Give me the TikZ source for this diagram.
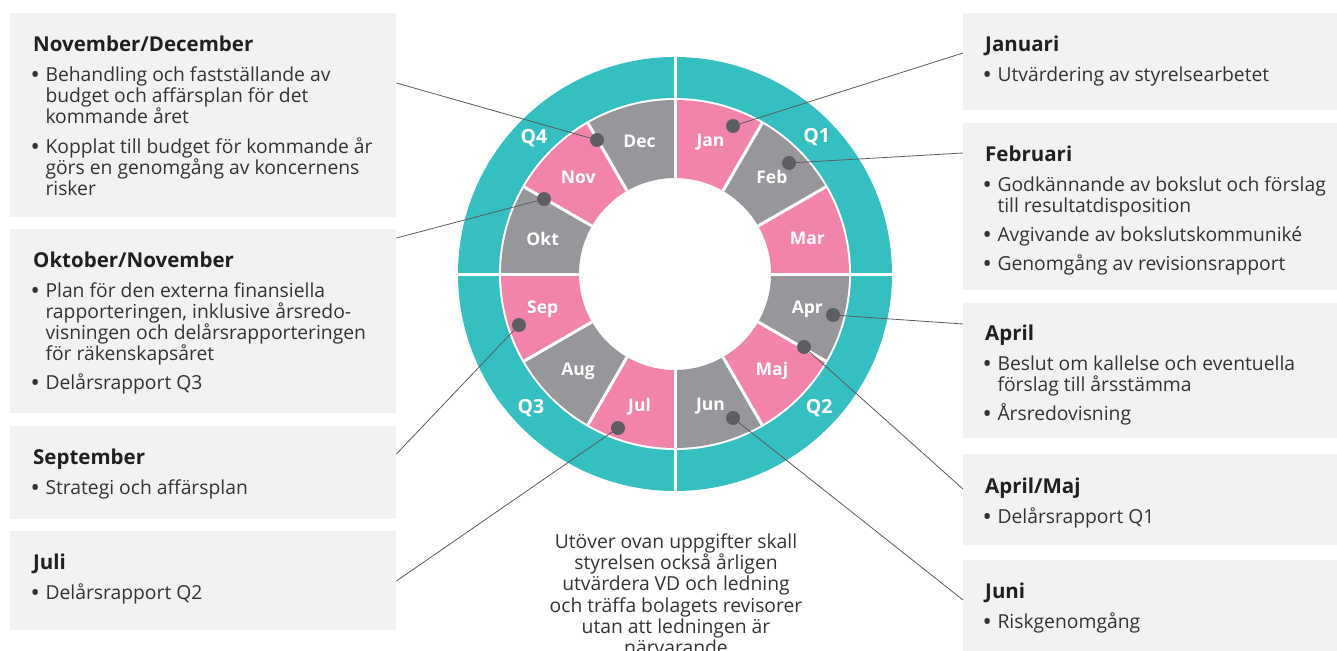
\documentclass[tikz,border=0pt]{standalone}
\usepackage{fontspec}
\setmainfont{Open Sans}
\usetikzlibrary{positioning}
\definecolor{wheelteal}{HTML}{35BFC1}
\definecolor{monthpink}{HTML}{F283AB}
\definecolor{monthgray}{HTML}{96969B}
\definecolor{panelgray}{HTML}{F1F2F4}
\definecolor{dotgray}{HTML}{5E5E62}
\definecolor{leadgray}{HTML}{5A5A5C}
\definecolor{titleink}{HTML}{231F20}
\definecolor{bodyink}{HTML}{333333}
\newcommand{\bulitem}{\makebox[12.3pt][l]{\hspace*{-1.5pt}\bfseries\textbullet}}
\newcommand{\bulindent}{\hspace*{12.3pt}}
\newcommand{\paneltitle}[1]{\strut{\bfseries\color{titleink}\fontsize{20.5}{21}\selectfont #1}}
\newcommand{\tightlines}{\lineskiplimit=-50pt\relax}
\tikzset{panel/.style={fill=panelgray,inner sep=0pt,anchor=north west},
        paneltext/.style={inner sep=0pt,align=left,text=bodyink,
        font=\fontsize{19.3}{21}\selectfont\tightlines},
        monthdot/.style={circle,fill=dotgray,inner sep=0pt,minimum size=14pt},
        leaderline/.style={draw=leadgray,line width=0.8pt},
        monthlabel/.style={text=white,font=\bfseries\fontsize{17.5}{17.5}\selectfont},
        qlabel/.style={text=white,font=\bfseries\fontsize{19.5}{19.5}\selectfont}}

\begin{document}
\begin{tikzpicture}[x=1pt,y=1pt]
  \useasboundingbox (0,0) rectangle (1337,-650);
  % panels left
  \node[panel,minimum width=386pt,minimum height=204pt] (novdec) at (10,-13) {};
  \node[panel,minimum width=386pt,minimum height=184pt] (oktnov) at (10,-229) {};
  \node[panel,minimum width=386pt,minimum height=93pt] (sep) at (10,-426) {};
  \node[panel,minimum width=386pt,minimum height=99pt] (juli) at (10,-531) {};
  % panels right
  \node[panel,minimum width=374pt,minimum height=97pt] (jan) at (963,-13) {};
  \node[panel,minimum width=374pt,minimum height=167pt] (feb) at (963,-123) {};
  \node[panel,minimum width=374pt,minimum height=135pt] (apr) at (963,-303) {};
  \node[panel,minimum width=374pt,minimum height=91pt] (aprmaj) at (963,-454) {};
  \node[panel,minimum width=374pt,minimum height=100pt] (juni) at (963,-560) {};

  \node[paneltext,below right=23pt and 23pt of novdec.north west] (novdec-t) {%
    \paneltitle{November/December}\\[9pt]
    \bulitem Behandling och fastställande av\\
    \bulindent budget och affärsplan för det\\
    \bulindent kommande året\\[9pt]
    \bulitem Kopplat till budget för kommande år\\
    \bulindent görs en genomgång av koncernens\\
    \bulindent risker};
  \node[paneltext,below right=23pt and 23pt of oktnov.north west] (oktnov-t) {%
    \paneltitle{Oktober/November}\\[9pt]
    \bulitem Plan för den externa finansiella\\
    \bulindent rapporteringen, inklusive årsredo-\\
    \bulindent visningen och delårsrapporteringen\\
    \bulindent för räkenskapsåret\\[8pt]
    \bulitem Delårsrapport Q3};
  \node[paneltext,below right=23pt and 23pt of sep.north west] (sep-t) {%
    \paneltitle{September}\\[9pt]
    \bulitem Strategi och affärsplan};
  \node[paneltext,below right=23pt and 23pt of juli.north west] (juli-t) {%
    \paneltitle{Juli}\\[9pt]
    \bulitem Delårsrapport Q2};
  \node[paneltext,below right=23pt and 22pt of jan.north west] (jan-t) {%
    \paneltitle{Januari}\\[9pt]
    \bulitem Utvärdering av styrelsearbetet};
  \node[paneltext,below right=23pt and 22pt of feb.north west] (feb-t) {%
    \paneltitle{Februari}\\[9pt]
    \bulitem Godkännande av bokslut och förslag\\
    \bulindent till resultatdisposition\\[8pt]
    \bulitem Avgivande av bokslutskommuniké\\[7.5pt]
    \bulitem Genomgång av revisionsrapport};
  \node[paneltext,below right=22pt and 22pt of apr.north west] (apr-t) {%
    \paneltitle{April}\\[9pt]
    \bulitem Beslut om kallelse och eventuella\\
    \bulindent förslag till årsstämma\\[8pt]
    \bulitem Årsredovisning};
  \node[paneltext,below right=24pt and 22pt of aprmaj.north west] (aprmaj-t) {%
    \paneltitle{April/Maj}\\[9pt]
    \bulitem Delårsrapport Q1};
  \node[paneltext,below right=23pt and 22pt of juni.north west] (juni-t) {%
    \paneltitle{Juni}\\[9pt]
    \bulitem Riskgenomgång};

  % the year wheel
  \begin{scope}[shift={(675,-274)}]
    \fill[wheelteal] (0,0) circle (217);
    \fill[white] (0,0) circle (176);
    \foreach \m [count=\i] in {Jan,Feb,Mar,Apr,Maj,Jun,Jul,Aug,Sep,Okt,Nov,Dec}{
      \pgfmathsetmacro\s{120-30*\i}
      \pgfmathsetmacro\e{\s-30}
      \pgfmathsetmacro\mid{\s-15}
      \pgfmathparse{isodd(\i)?"monthpink":"monthgray"}
      \edef\c{\pgfmathresult}
      \fill[\c] (\s:174) arc[start angle=\s,end angle=\e,radius=174]
        -- (\e:96) arc[start angle=\e,end angle=\s,radius=96] -- cycle;
      \node[monthlabel] (m-\m) at (\mid:137) {\m};
    }
    \foreach \k in {0,30,...,330}
      \draw[white,line width=3pt] (\k:96) -- (\k:175);
    \foreach \k in {0,90,180,270}
      \draw[white,line width=3pt] (\k:174) -- (\k:218);
    \node[qlabel] (q1) at (44:197) {Q1};
    \node[qlabel] (q2) at (-43:197) {Q2};
    \node[qlabel] (q3) at (-137:197) {Q3};
    \node[qlabel] (q4) at (136:196) {Q4};
  \end{scope}

  \node[paneltext,align=center,anchor=north,
        font=\fontsize{19.3}{21.3}\selectfont\tightlines] (note) at (676,-533) {%
    \strut Utöver ovan uppgifter skall\\
    styrelsen också årligen\\
    utvärdera VD och ledning\\
    och träffa bolagets revisorer\\
    utan att ledningen är\\
    närvarande};

  % dots and leader lines
  \node[monthdot] (d-jan) at (733,-126) {};
  \node[monthdot] (d-feb) at (789,-163) {};
  \node[monthdot] (d-apr) at (833,-315) {};
  \node[monthdot] (d-aprmaj) at (804,-347) {};
  \node[monthdot] (d-jun) at (733,-418) {};
  \node[monthdot] (d-jul) at (618,-428) {};
  \node[monthdot] (d-sep) at (519,-325) {};
  \node[monthdot] (d-oktnov) at (544,-199) {};
  \node[monthdot] (d-novdec) at (597,-140) {};

  \coordinate (e-novdec) at ([yshift=-70pt]novdec.north east);
  \coordinate (e-oktnov) at ([yshift=-9pt]oktnov.north east);
  \coordinate (e-sep) at ([yshift=-28pt]sep.north east);
  \coordinate (e-juli) at ([yshift=-50pt]juli.north east);
  \coordinate (e-jan) at ([yshift=-40pt]jan.north west);
  \coordinate (e-feb) at ([yshift=-30pt]feb.north west);
  \coordinate (e-apr) at ([yshift=-21pt]apr.north west);
  \coordinate (e-aprmaj) at ([yshift=-35pt]aprmaj.north west);
  \coordinate (e-juni) at ([yshift=-40pt]juni.north west);

  \draw[leaderline] (d-novdec) -- (e-novdec);
  \draw[leaderline] (d-oktnov) -- (e-oktnov);
  \draw[leaderline] (d-sep) -- (e-sep);
  \draw[leaderline] (d-jul) -- (e-juli);
  \draw[leaderline] (d-jan) -- (e-jan);
  \draw[leaderline] (d-feb) -- (e-feb);
  \draw[leaderline] (d-apr) -- (e-apr);
  \draw[leaderline] (d-aprmaj) -- (e-aprmaj);
  \draw[leaderline] (d-jun) -- (e-juni);
\end{tikzpicture}
\end{document}
